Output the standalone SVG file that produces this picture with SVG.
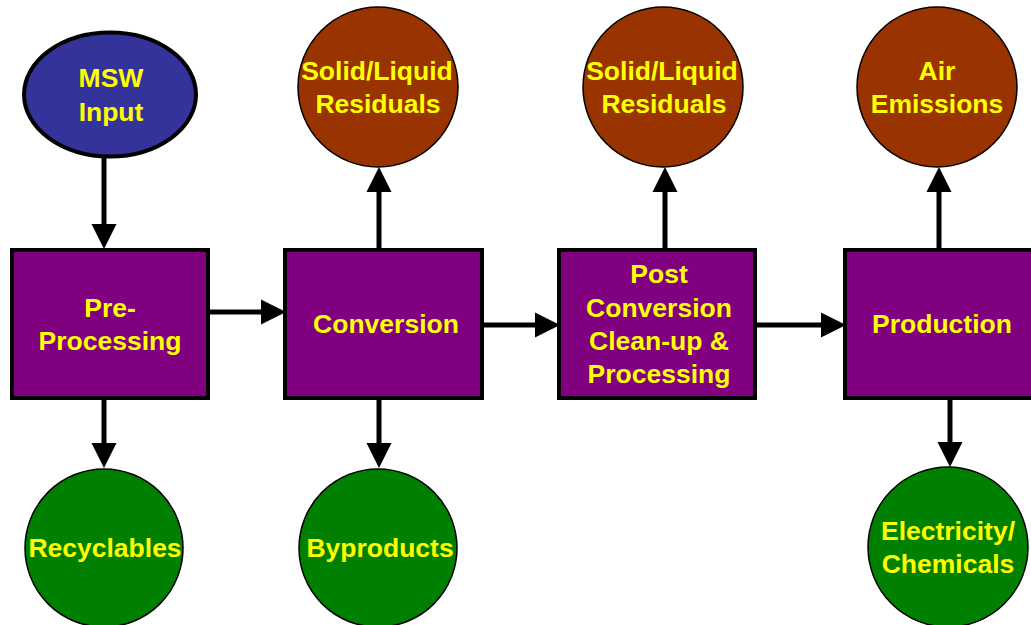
<svg xmlns="http://www.w3.org/2000/svg" width="1031" height="625" viewBox="0 0 1031 625">
<style>
.box{fill:#800080;stroke:#000;stroke-width:4}
.brown{fill:#993300;stroke:#000;stroke-width:1.5}
.green{fill:#008000;stroke:#000;stroke-width:1.5}
.blue{fill:#333399;stroke:#000;stroke-width:4}
.lbl{font-family:"Liberation Sans",Arial,sans-serif;font-weight:bold;font-size:26.5px;fill:#FFFF00;text-anchor:middle}
.conn{stroke:#000;stroke-width:5;fill:none;marker-end:url(#ah)}
</style>
<defs>
<marker id="ah" markerUnits="userSpaceOnUse" markerWidth="26" markerHeight="26" refX="12" refY="12.5" orient="auto" viewBox="0 0 26 25">
<path d="M0,0 L25,12.5 L0,25 z" fill="#000"/>
</marker>
</defs>
<rect width="1031" height="625" fill="#fff"/>
<g id="connectors">
<line class="conn" x1="104" y1="157" x2="104" y2="236"/>
<line class="conn" x1="104" y1="400" x2="104" y2="455"/>
<line class="conn" x1="208" y1="312" x2="273" y2="312"/>
<line class="conn" x1="379" y1="248" x2="379" y2="180"/>
<line class="conn" x1="379" y1="400" x2="379" y2="455"/>
<line class="conn" x1="482" y1="325" x2="547" y2="325"/>
<line class="conn" x1="665" y1="248" x2="665" y2="180"/>
<line class="conn" x1="755" y1="325" x2="833" y2="325"/>
<line class="conn" x1="939" y1="248" x2="939" y2="180"/>
<line class="conn" x1="950" y1="400" x2="950" y2="454"/>
</g>
<g id="msw-input">
<ellipse class="blue" cx="110" cy="94.5" rx="86" ry="62"/>
<text class="lbl" x="111" y="87">MSW</text>
<text class="lbl" x="111" y="121">Input</text>
</g>
<g id="pre-processing">
<rect class="box" x="12" y="250" width="196" height="148"/>
<text class="lbl" x="110" y="317">Pre-</text>
<text class="lbl" x="110" y="350">Processing</text>
</g>
<g id="conversion">
<rect class="box" x="285" y="250" width="197" height="148"/>
<text class="lbl" x="386" y="333">Conversion</text>
</g>
<g id="post-conversion">
<rect class="box" x="559" y="250" width="196" height="148"/>
<text class="lbl" x="659" y="283">Post</text>
<text class="lbl" x="659" y="317">Conversion</text>
<text class="lbl" x="659" y="350">Clean-up &amp;</text>
<text class="lbl" x="659" y="383">Processing</text>
</g>
<g id="production">
<rect class="box" x="845" y="250" width="196" height="148"/>
<text class="lbl" x="942" y="333">Production</text>
</g>
<g id="residuals-1">
<circle class="brown" cx="378" cy="87" r="80"/>
<text class="lbl" x="377" y="80">Solid/Liquid</text>
<text class="lbl" x="378" y="113">Residuals</text>
</g>
<g id="residuals-2">
<circle class="brown" cx="663" cy="87" r="80"/>
<text class="lbl" x="662" y="80">Solid/Liquid</text>
<text class="lbl" x="664" y="113">Residuals</text>
</g>
<g id="air-emissions">
<circle class="brown" cx="937" cy="87" r="80"/>
<text class="lbl" x="937" y="80">Air</text>
<text class="lbl" x="937" y="113">Emissions</text>
</g>
<g id="recyclables">
<circle class="green" cx="104" cy="548" r="79"/>
<text class="lbl" x="105" y="557">Recyclables</text>
</g>
<g id="byproducts">
<circle class="green" cx="378" cy="548" r="79"/>
<text class="lbl" x="380" y="557">Byproducts</text>
</g>
<g id="electricity">
<circle class="green" cx="948" cy="547" r="80"/>
<text class="lbl" x="948" y="540">Electricity/</text>
<text class="lbl" x="948" y="573">Chemicals</text>
</g>
</svg>
